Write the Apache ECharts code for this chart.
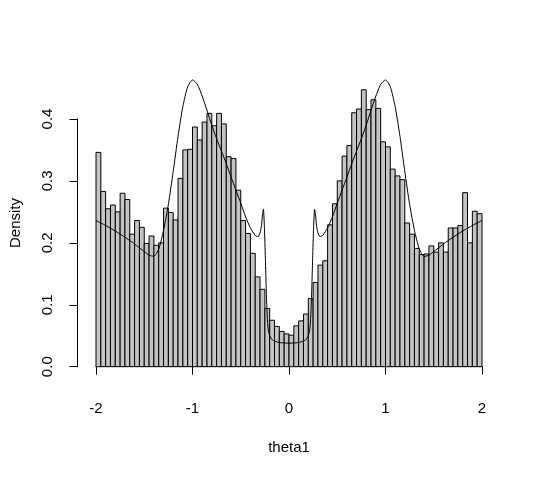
<!DOCTYPE html>
<html>
<head>
<meta charset="utf-8">
<script src="https://cdn.jsdelivr.net/npm/echarts@6/dist/echarts.min.js"></script>
<style>
  html, body { margin: 0; padding: 0; background: #fff; }
  #main { width: 538px; height: 477px; }
</style>
</head>
<body>
<div id="main"></div>
<script>
// histogram of theta1, bins of width 0.05 from -2 to 2
var binStart = -2;
var binWidth = 0.05;
var densities = [
  0.346, 0.283, 0.255, 0.261, 0.250, 0.280, 0.270, 0.214, 0.236, 0.225,
  0.199, 0.211, 0.196, 0.200, 0.256, 0.249, 0.237, 0.304, 0.350, 0.351,
  0.387, 0.366, 0.395, 0.409, 0.389, 0.409, 0.392, 0.339, 0.336, 0.285,
  0.236, 0.215, 0.183, 0.145, 0.125, 0.094, 0.075, 0.065, 0.057, 0.053,
  0.051, 0.066, 0.074, 0.085, 0.110, 0.136, 0.164, 0.171, 0.229, 0.263,
  0.300, 0.340, 0.357, 0.410, 0.416, 0.447, 0.415, 0.431, 0.417, 0.363,
  0.355, 0.319, 0.308, 0.302, 0.232, 0.214, 0.191, 0.181, 0.182, 0.195,
  0.185, 0.200, 0.185, 0.224, 0.224, 0.228, 0.281, 0.200, 0.251, 0.247
];

// density curve
var curveX = [
  -2.0, -1.9, -1.8, -1.7, -1.6, -1.5, -1.45, -1.4, -1.35, -1.3, -1.25, -1.2, -1.15, -1.1, -1.05,
  -1.0, -0.95, -0.9, -0.85, -0.8, -0.75, -0.7, -0.65, -0.6, -0.55, -0.5, -0.45, -0.4, -0.35,
  -0.32, -0.3, -0.285, -0.275, -0.265, -0.255, -0.245, -0.235, -0.225, -0.215, -0.2, -0.17, -0.1,
  0,
  0.1, 0.17, 0.2, 0.215, 0.225, 0.235, 0.245, 0.255, 0.265, 0.275, 0.285, 0.3, 0.32,
  0.35, 0.4, 0.45, 0.5, 0.55, 0.6, 0.65, 0.7, 0.75, 0.8, 0.85, 0.9, 0.95, 1.0,
  1.05, 1.1, 1.15, 1.2, 1.25, 1.3, 1.35, 1.4, 1.45, 1.5, 1.6, 1.7, 1.8, 1.9, 2.0
];
var curveY = [
  0.236, 0.228, 0.219, 0.209, 0.198, 0.186, 0.180, 0.178, 0.190, 0.220, 0.262, 0.315, 0.372, 0.420, 0.452,
  0.463, 0.456, 0.437, 0.414, 0.390, 0.368, 0.348, 0.328, 0.306, 0.285, 0.264, 0.242, 0.224, 0.212,
  0.210, 0.216, 0.228, 0.245, 0.254, 0.225, 0.175, 0.120, 0.080, 0.060, 0.050, 0.043, 0.039,
  0.038,
  0.039, 0.043, 0.050, 0.060, 0.080, 0.120, 0.175, 0.225, 0.254, 0.245, 0.228, 0.216, 0.210,
  0.212, 0.224, 0.242, 0.264, 0.285, 0.306, 0.328, 0.348, 0.368, 0.390, 0.414, 0.437, 0.456, 0.463,
  0.452, 0.420, 0.372, 0.315, 0.262, 0.220, 0.190, 0.178, 0.180, 0.186, 0.198, 0.209, 0.219, 0.228, 0.236
];

var yTicks = [0, 0.1, 0.2, 0.3, 0.4];

var barData = [];
for (var i = 0; i < densities.length; i++) {
    var x0 = binStart + i * binWidth;
    barData.push([x0, x0 + binWidth, densities[i]]);
}
var lineData = [];
for (var j = 0; j < curveX.length; j++) {
    lineData.push([curveX[j], curveY[j]]);
}

var chart = echarts.init(document.getElementById('main'), null, {renderer: 'canvas'});
var font = 'Liberation Sans, Arial, Helvetica, sans-serif';
var fs = 15;

var option = {
    backgroundColor: '#ffffff',
    animation: false,
    grid: [
        // plot area: x -2..2, y 0..0.464 (the y title is centred on it)
        {left: 94, right: 56, top: 79.3, bottom: 110.3},
        // separate grid only for the short R style y axis (0..0.4)
        {left: 77.5, width: 10, top: 119, bottom: 110.3}
    ],
    xAxis: [
        {
            type: 'value', gridIndex: 0, min: -2, max: 2, interval: 1,
            offset: 12,
            name: 'theta1', nameLocation: 'middle', nameGap: 62,
            nameTextStyle: {color: '#000', fontFamily: font, fontSize: fs},
            axisLine: {show: true, lineStyle: {color: '#000', width: 1}},
            axisTick: {show: true, length: 8, lineStyle: {color: '#000'}},
            axisLabel: {color: '#000', fontFamily: font, fontSize: fs, margin: 23},
            splitLine: {show: false}
        },
        {type: 'value', gridIndex: 1, show: false, min: 0, max: 1}
    ],
    yAxis: [
        {
            type: 'value', gridIndex: 0, min: 0, max: 0.464,
            name: 'Density', nameLocation: 'middle', nameGap: 73, nameRotate: 90,
            nameTextStyle: {color: '#000', fontFamily: font, fontSize: fs},
            axisLine: {show: false}, axisTick: {show: false}, axisLabel: {show: false},
            splitLine: {show: false}
        },
        {
            type: 'value', gridIndex: 1, min: yTicks[0], max: yTicks[yTicks.length - 1], interval: 0.1,
            axisLine: {show: true, lineStyle: {color: '#000', width: 1}},
            axisTick: {show: true, length: 8, lineStyle: {color: '#000'}},
            axisLabel: {
                color: '#000', fontFamily: font, fontSize: fs, margin: 22, rotate: 90,
                formatter: function (v) { return v.toFixed(1); }
            },
            splitLine: {show: false}
        }
    ],
    series: [
        {
            type: 'custom',
            xAxisIndex: 0, yAxisIndex: 0,
            encode: {x: [0, 1], y: 2},
            data: barData,
            renderItem: function (params, api) {
                var p0 = api.coord([api.value(0), api.value(2)]);
                var p1 = api.coord([api.value(1), 0]);
                return {
                    type: 'rect',
                    shape: {x: p0[0], y: p0[1], width: p1[0] - p0[0], height: p1[1] - p0[1]},
                    style: {fill: '#c4c4c4', stroke: '#000', lineWidth: 1}
                };
            }
        },
        {
            type: 'line',
            xAxisIndex: 0, yAxisIndex: 0,
            data: lineData,
            showSymbol: false,
            smooth: 0.2,
            clip: false,
            lineStyle: {color: '#000', width: 1},
            z: 5
        }
    ]
};
chart.setOption(option);
</script>
</body>
</html>
